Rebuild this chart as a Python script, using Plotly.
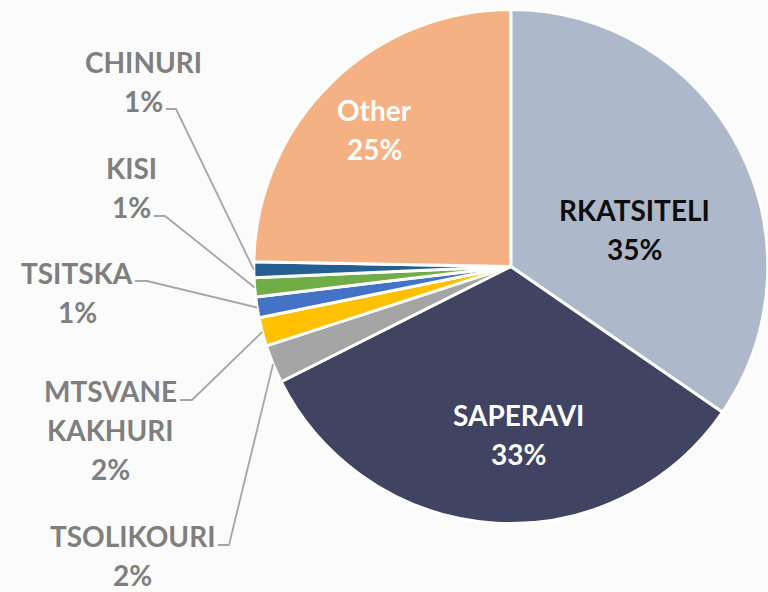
import math
import plotly.graph_objects as go

# ---- data ----
varieties = ["RKATSITELI", "SAPERAVI", "TSOLIKOURI", "MTSVANE KAKHURI",
             "TSITSKA", "KISI", "CHINURI", "Other"]
shares = [34.6, 33.0, 2.4, 1.8, 1.3, 1.2, 1.0, 24.7]
colors = ["#ADB9CA", "#404462", "#A5A5A5", "#FFC000",
          "#4472C4", "#70AD47", "#255E91", "#F4B183"]
label_lines = [["RKATSITELI"], ["SAPERAVI"], ["TSOLIKOURI"], ["MTSVANE", "KAKHURI"],
               ["TSITSKA"], ["KISI"], ["CHINURI"], ["Other"]]

W, H = 768, 592
CX, CY, R = 510.8, 266.5, 257.0  # pie centre / radius in pixels

def px(x):
    return x / W

def py(y):
    return 1 - y / H

fig = go.Figure(go.Pie(
    labels=varieties, values=shares, sort=False, direction="clockwise",
    rotation=0, textinfo="none", hoverinfo="label+percent",
    marker=dict(colors=colors, line=dict(color="white", width=3)),
    domain=dict(x=[(CX - R) / W, min(1.0, (CX + R) / W)], y=[py(CY + R), py(CY - R)]),
    showlegend=False,
))

total = sum(shares)
# mid angle of each slice (clockwise from 12 o'clock)
mids = []
acc = 0.0
for v in shares:
    mids.append((acc + v / 2) / total * 360)
    acc += v

# label layout: (centre x of text, y of first line, text colour, leader elbow)
label_style = {
    "RKATSITELI": (634, 210, "#0D0D0D", None),
    "SAPERAVI": (518, 415, "#FFFFFF", None),
    "Other": (374, 110, "#FFFFFF", None),
    "CHINURI": (143, 62, "#7F7F7F", (166, 176, 109)),
    "KISI": (131, 168, "#7F7F7F", (154, 165, 216)),
    "TSITSKA": (77, 273, "#7F7F7F", (135, 147, 281)),
    "MTSVANE KAKHURI": (110, 391, "#7F7F7F", (180, 192, 400)),
    "TSOLIKOURI": (132, 536, "#7F7F7F", (218, 229, 545)),
}
PITCH = 39
annotations = []
shapes = []
for name, v, lines, mid in zip(varieties, shares, label_lines, mids):
    x0, y0, col, elbow = label_style[name]
    pct = f"{round(v / total * 100)}%"
    for i, t in enumerate(lines + [pct]):
        annotations.append(dict(
            x=px(x0), y=py(y0 + i * PITCH), xref="paper", yref="paper",
            text=t, showarrow=False, xanchor="center", yanchor="middle",
            font=dict(family="Lato", size=28, color=col, weight="bold")))
    if elbow:
        xs, xe, ye = elbow
        th = math.radians(mid)
        ex = CX + R * math.sin(th)
        ey = CY - R * math.cos(th)
        path = f"M {px(xs)} {py(ye)} L {px(xe)} {py(ye)} L {px(ex)} {py(ey)}"
        shapes.append(dict(type="path", xref="paper", yref="paper", path=path,
                           line=dict(color="#A6A6A6", width=1.8)))

fig.update_layout(
    width=W, height=H, margin=dict(l=0, r=0, t=0, b=0),
    paper_bgcolor="#FBFBFB", plot_bgcolor="#FBFBFB",
    annotations=annotations, shapes=shapes,
)
fig.write_html("out.html", config={"displayModeBar": False},
               post_script="document.body.style.margin='0';document.body.style.background='#FBFBFB';")
